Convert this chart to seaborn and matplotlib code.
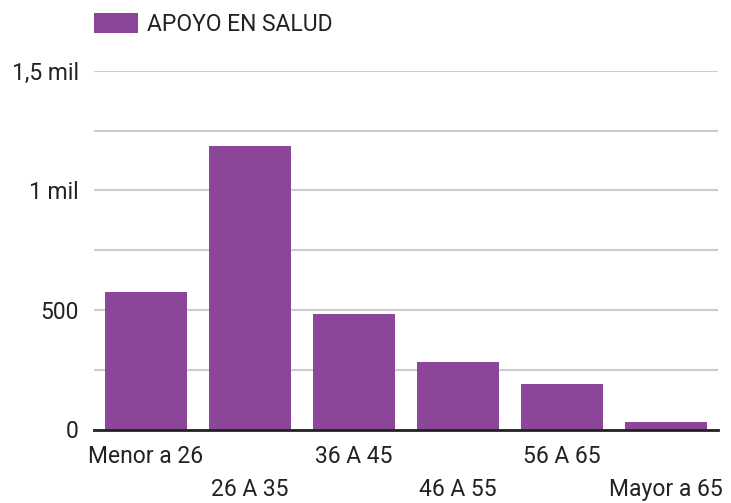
import matplotlib
matplotlib.use("Agg")
import matplotlib.pyplot as plt
import seaborn as sns
import pandas as pd
from matplotlib.ticker import FixedLocator, FixedFormatter

categories = ["Menor a 26", "26 A 35", "36 A 45", "46 A 55", "56 A 65", "Mayor a 65"]
values = [575, 1186, 483, 282, 190, 31]
series_name = "APOYO EN SALUD"
ytick_values = [0, 500, 1000, 1500]
ytick_labels = ["0", "500", "1 mil", "1,5 mil"]
grid_values = [250, 750, 1250]

sns.set_theme(style="white")
plt.rcParams['font.family'] = ['Roboto', 'DejaVu Sans']

df = pd.DataFrame({"cat": categories, "val": values})

fig = plt.figure(figsize=(7.31, 5.03), dpi=100)
W, H = 731, 503
ax = fig.add_axes([94 / W, 1 - 429.5 / H, (718 - 94) / W, (429.5 - 71) / H])

color = "#8B4599"
sns.barplot(data=df, x="cat", y="val", color=color, width=0.79, ax=ax,
            label=series_name, saturation=1, zorder=3, linewidth=0)

fs = 16.5
ax.set_xlim(-0.5, len(categories) - 0.5)
ax.set_ylim(0, 1500)
ax.yaxis.set_major_locator(FixedLocator(ytick_values))
ax.yaxis.set_major_formatter(FixedFormatter(ytick_labels))
ax.yaxis.set_minor_locator(FixedLocator(grid_values))
ax.grid(False)
ax.grid(which="both", axis="y", color="#cccccc", linewidth=1.5, zorder=0)
ax.set_axisbelow(True)
ax.tick_params(axis="y", which="both", length=0, pad=11, labelsize=fs, labelcolor="#222222")
ax.tick_params(axis="x", length=0, labelsize=fs, labelcolor="#222222")
ax.set_xlabel("")
ax.set_ylabel("")

for i, tick in enumerate(ax.xaxis.get_major_ticks()):
    tick.set_pad(11 if i % 2 == 0 else 35)

for s in ["top", "right", "left"]:
    ax.spines[s].set_visible(False)
ax.spines["bottom"].set_color("#222222")
ax.spines["bottom"].set_linewidth(2)
ax.spines["bottom"].set_zorder(4)

leg = ax.legend(loc="lower left", bbox_to_anchor=(0, 1 + (71 - 36) / (429.5 - 71)),
                frameon=False, fontsize=fs, borderpad=0, borderaxespad=0,
                handlelength=44 / 23, handleheight=22 / 23, handletextpad=9 / 23)
for t in leg.get_texts():
    t.set_color("#222222")

fig.savefig("out.png", dpi=100)
